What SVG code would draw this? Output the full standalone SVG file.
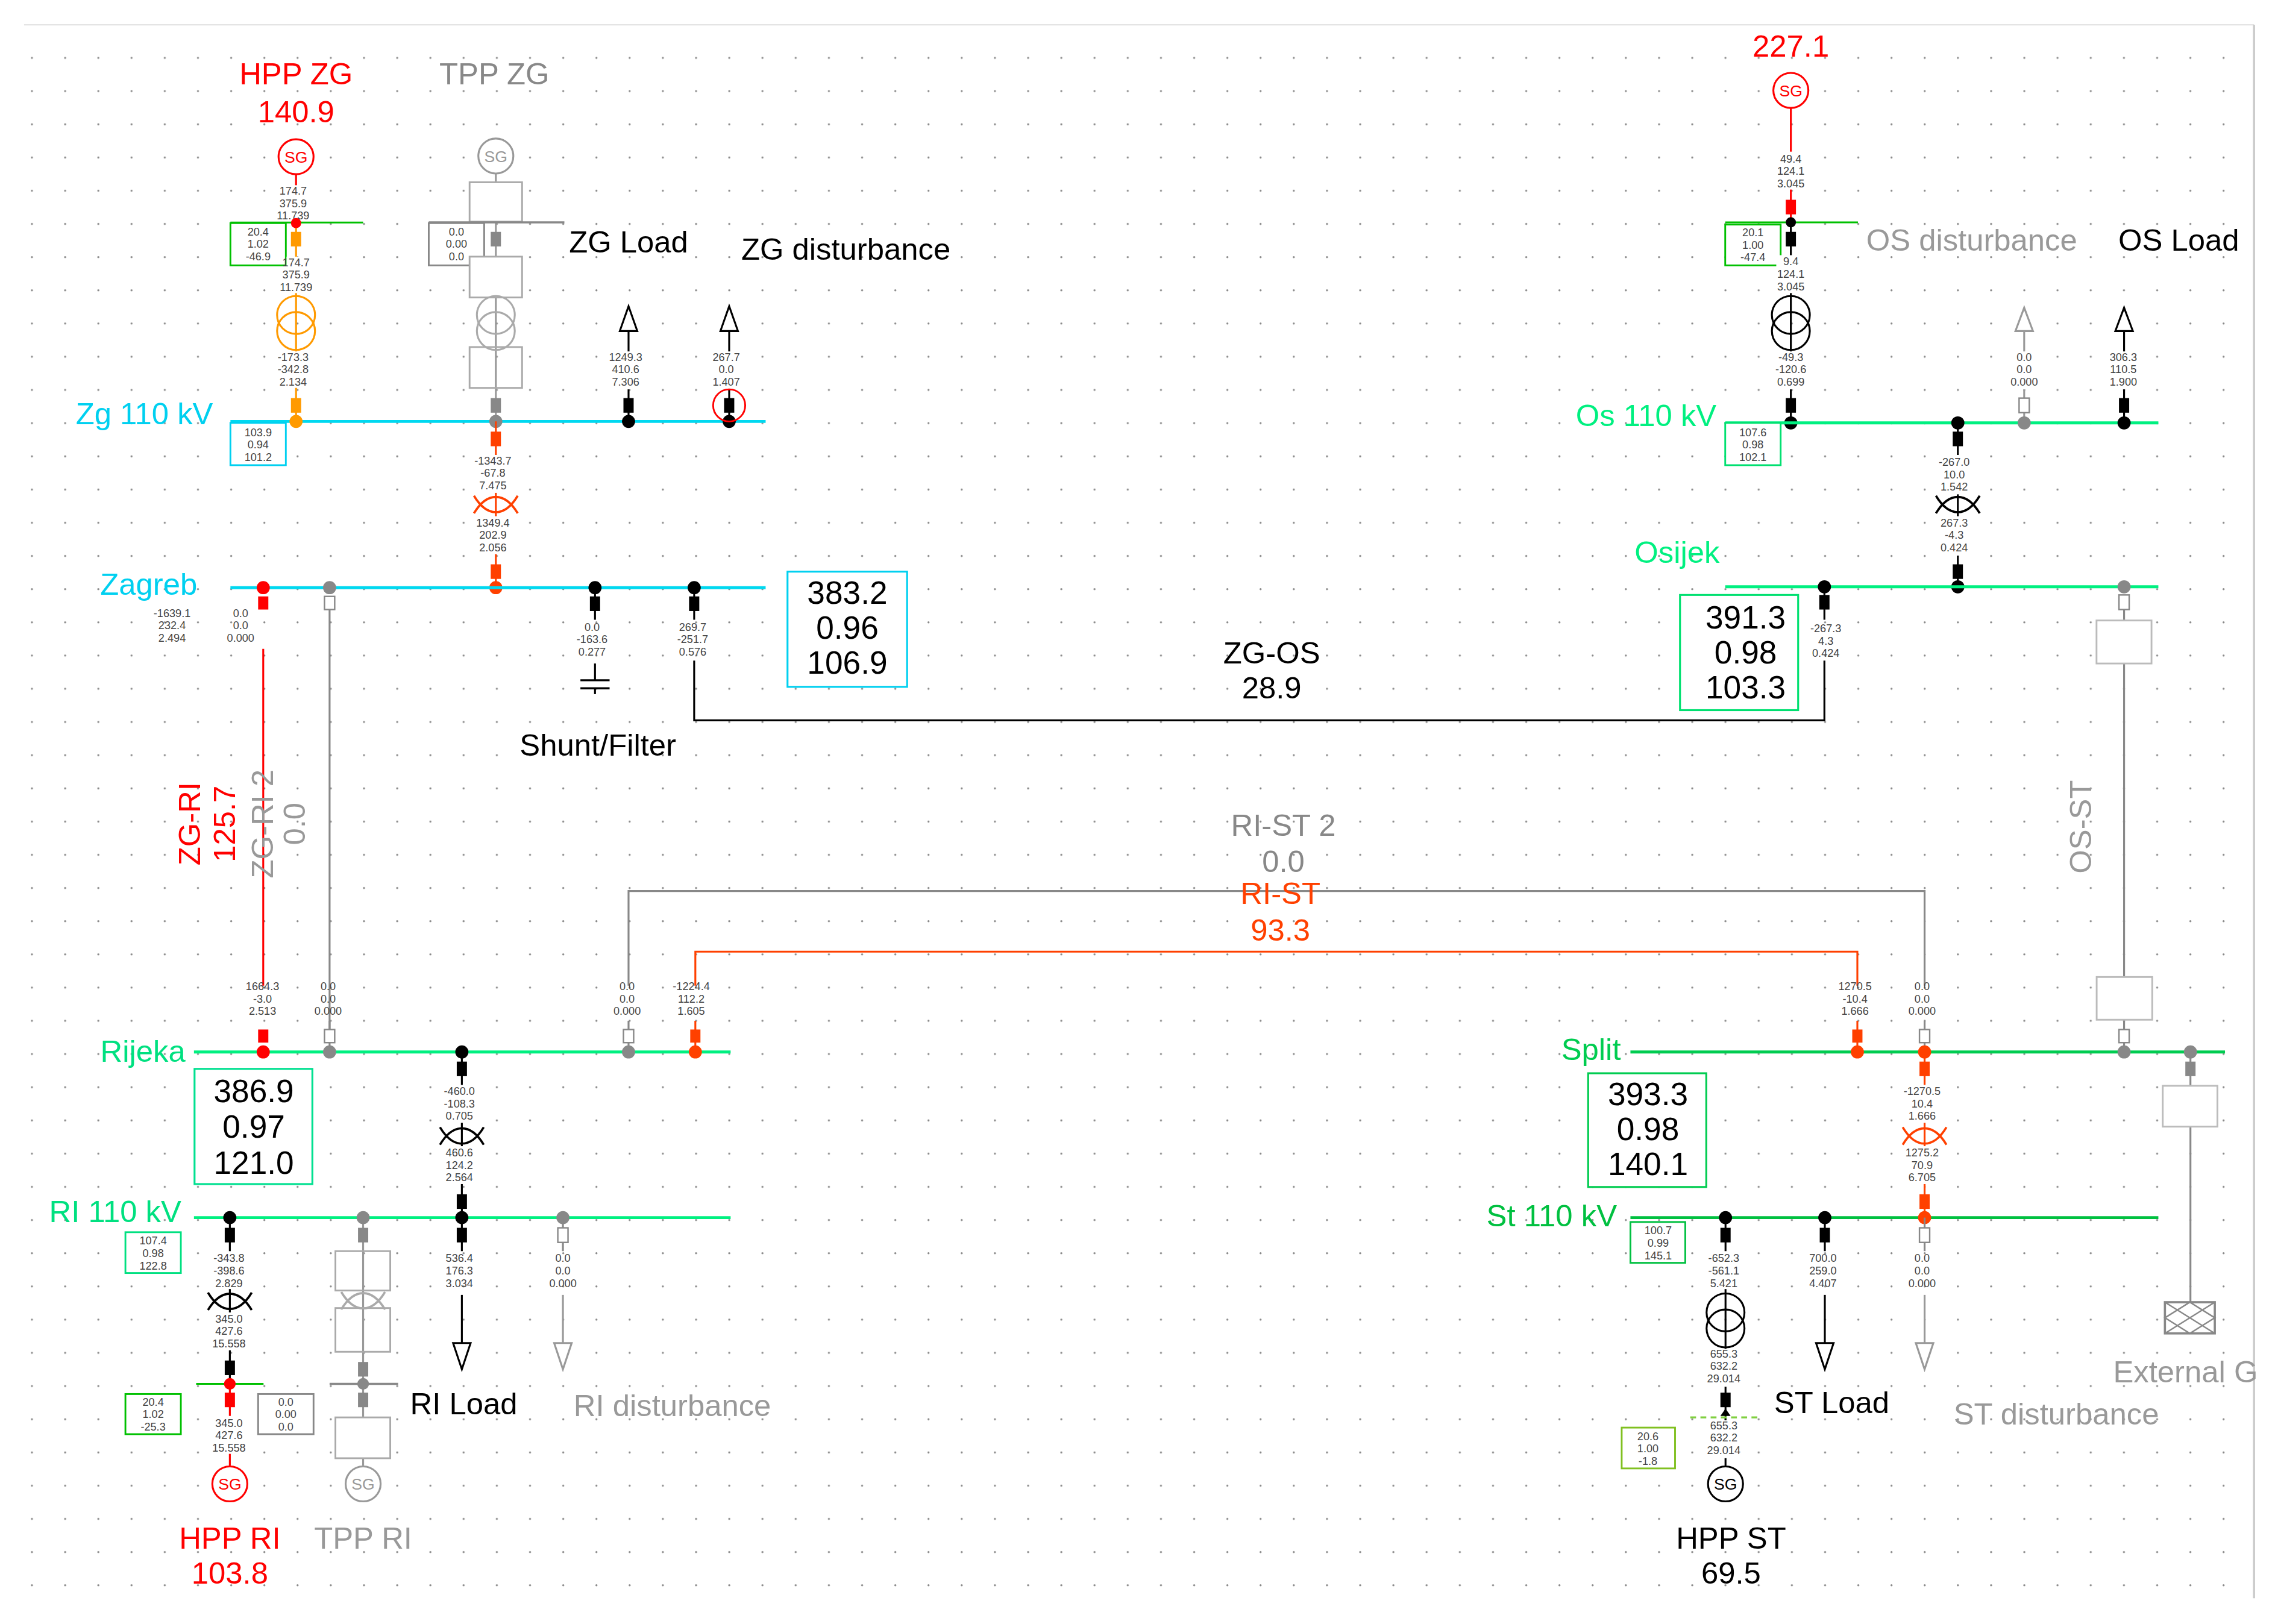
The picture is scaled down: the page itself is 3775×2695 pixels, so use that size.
<svg xmlns="http://www.w3.org/2000/svg" width="3775" height="2695" viewBox="0 0 3775 2695">
<defs>
<style>
text{font-family:"Liberation Sans",Arial,sans-serif}
.s{font-size:7.5px;fill:#444;text-anchor:middle}
.L{font-size:21px;text-anchor:middle}
.B{font-size:22px;text-anchor:middle;fill:#000}
.sg{font-size:11px;text-anchor:middle}
</style>
<pattern id="dots" x="21.2" y="39" width="22.77" height="22.77" patternUnits="userSpaceOnUse"><circle cx="0.7" cy="0.7" r="0.7" fill="#888"/></pattern>
<path id="xs" d="M-15,-6 C-6,9 6,9 15,-6 M-15,6 C-6,-9 6,-9 15,6" fill="none" stroke-width="1.5"/>
</defs>
<rect width="3775" height="2695" fill="#fff"/>
<g transform="scale(2.4199)">
<rect x="16" y="30" width="1524" height="1065" fill="url(#dots)"/>
<g id="border"><line x1="16.5" y1="17" x2="1545.6" y2="17" stroke="#e4e4e4" stroke-width="1"/><line x1="1545.6" y1="17" x2="1545.6" y2="1096" stroke="#ccc" stroke-width="1.5"/></g>

<g id="connectors" fill="none" stroke-width="1.3">
<line x1="180.5" y1="445" x2="180.5" y2="676" stroke="#f00"/>
<line x1="226" y1="418" x2="226" y2="706" stroke="#888"/>
<polyline points="476,453 476,494 1251,494 1251,453" stroke="#000"/>
<polyline points="431,676 431,611 1319.7,611 1319.7,676" stroke="#888"/>
<polyline points="476.8,676 476.8,652.6 1273.6,652.6 1273.6,676" stroke="#ff4000"/>
<line x1="1456.5" y1="455" x2="1456.5" y2="670" stroke="#888"/>
</g>
<g id="line-labels">
<text class="L" x="872" y="455">ZG-OS</text><text class="L" x="872" y="479">28.9</text>
<text class="L" x="880" y="573" fill="#888">RI-ST 2</text><text class="L" x="880" y="598" fill="#888">0.0</text>
<text class="L" x="878" y="620" fill="#ff4000">RI-ST</text><text class="L" x="878" y="645" fill="#ff4000">93.3</text>
<text class="L" transform="translate(137,565) rotate(-90)" fill="#f00">ZG-RI</text>
<text class="L" transform="translate(161,565) rotate(-90)" fill="#f00">125.7</text>
<text class="L" transform="translate(187,565) rotate(-90)" fill="#999">ZG-RI 2</text>
<text class="L" transform="translate(209,565) rotate(-90)" fill="#999">0.0</text>
<text class="L" transform="translate(1434,567) rotate(-90)" fill="#999">OS-ST</text>
</g>

<g id="bus-zg110">
<line x1="158" y1="289" x2="525" y2="289" stroke="#00d8f0" stroke-width="2"/>
<text class="L" x="99" y="291" fill="#00d0f0">Zg 110 kV</text>
<rect x="158" y="290" width="38" height="29" fill="#fff" stroke="#00d0f0" stroke-width="1.2"/>
<text class="s" x="177" y="299">103.9<tspan x="177" dy="8.5">0.94</tspan><tspan x="177" dy="8.5">101.2</tspan></text>
</g>

<g id="hpp-zg">
<text class="L" x="203" y="58" fill="#f00">HPP ZG</text><text class="L" x="203" y="84" fill="#f00">140.9</text>
<circle cx="203" cy="107.5" r="12" fill="#fff" stroke="#f00" stroke-width="1.3"/>
<text class="sg" x="203" y="111.5" fill="#f00">SG</text>
<line x1="203" y1="119.5" x2="203" y2="153" stroke="#f00" stroke-width="1.3"/>
<line x1="203" y1="153" x2="203" y2="285" stroke="#ff9a00" stroke-width="1.3"/>
<line x1="158" y1="152.6" x2="249" y2="152.6" stroke="#00c000" stroke-width="1.3"/>
<rect x="192" y="127" width="20" height="24" fill="#fff"/>
<text class="s" x="201" y="133.5">174.7<tspan x="201" dy="8.5">375.9</tspan><tspan x="201" dy="8.5">11.739</tspan></text>
<circle cx="203" cy="153" r="3.5" fill="#f00"/>
<rect x="199.5" y="159" width="7" height="10" fill="#ff9a00"/>
<rect x="158" y="153" width="38" height="29" fill="#fff" stroke="#00c000" stroke-width="1.2"/>
<text class="s" x="177" y="161.5">20.4<tspan x="177" dy="8.5">1.02</tspan><tspan x="177" dy="8.5">-46.9</tspan></text>
<rect x="196.5" y="176" width="16" height="25" fill="#fff"/>
<text class="s" x="203" y="182.5">174.7<tspan x="203" dy="8.5">375.9</tspan><tspan x="203" dy="8.5">11.739</tspan></text>
<circle cx="203" cy="216" r="13" fill="none" stroke="#ff9a00" stroke-width="1.3"/>
<circle cx="203" cy="227" r="13" fill="none" stroke="#ff9a00" stroke-width="1.3"/>
<rect x="192" y="241" width="20" height="25" fill="#fff"/>
<text class="s" x="201" y="247.5">-173.3<tspan x="201" dy="8.5">-342.8</tspan><tspan x="201" dy="8.5">2.134</tspan></text>
<rect x="199.5" y="273" width="7" height="10" fill="#ff9a00"/>
<circle cx="203" cy="289" r="4.5" fill="#ff9a00"/>
</g>

<g id="tpp-zg" stroke="#aaa">
<text class="L" x="339" y="58" fill="#888" stroke="none">TPP ZG</text>
<line x1="340" y1="119" x2="340" y2="289" stroke="#999" stroke-width="1.3"/>
<circle cx="340" cy="107" r="12" fill="#fff" stroke="#999" stroke-width="1.3"/>
<text class="sg" x="340" y="111" fill="#999" stroke="none">SG</text>
<rect x="322" y="125" width="36" height="27" fill="#fff" stroke-width="1.2"/>
<line x1="294" y1="152.5" x2="387" y2="152.5" stroke="#888" stroke-width="1.5"/>
<rect x="294" y="153" width="38" height="29" fill="#fff" stroke="#888" stroke-width="1.2"/>
<text class="s" x="313" y="161.5" stroke="none">0.0<tspan x="313" dy="8.5">0.00</tspan><tspan x="313" dy="8.5">0.0</tspan></text>
<rect x="336.5" y="159" width="7" height="10" fill="#888" stroke="none"/>
<rect x="322" y="176" width="36" height="28" fill="#fff" stroke-width="1.2"/>
<circle cx="340" cy="216" r="13" fill="none" stroke-width="1.3"/>
<circle cx="340" cy="227" r="13" fill="none" stroke-width="1.3"/>
<rect x="322" y="238" width="36" height="28" fill="none" stroke-width="1.2"/>
<rect x="336.5" y="273" width="7" height="10" fill="#888" stroke="none"/>
<circle cx="340" cy="289" r="4.5" fill="#888" stroke="none"/>
</g>

<g id="zg-load">
<text class="L" x="431" y="173">ZG Load</text>
<line x1="431" y1="227" x2="431" y2="289" stroke="#000" stroke-width="1.3"/>
<polygon points="431,210 425,227 437,227" fill="#fff" stroke="#000" stroke-width="1.3"/>
<rect x="421" y="241" width="20" height="26" fill="#fff"/>
<text class="s" x="429" y="247.5">1249.3<tspan x="429" dy="8.5">410.6</tspan><tspan x="429" dy="8.5">7.306</tspan></text>
<rect x="427.5" y="273" width="7" height="10" fill="#000"/>
<circle cx="431" cy="289" r="4.5" fill="#000"/>
</g>

<g id="zg-disturbance">
<text class="L" x="580" y="178">ZG disturbance</text>
<line x1="500" y1="227" x2="500" y2="289" stroke="#000" stroke-width="1.3"/>
<polygon points="500,210 494,227 506,227" fill="#fff" stroke="#000" stroke-width="1.3"/>
<rect x="490" y="241" width="18" height="26" fill="#fff"/>
<text class="s" x="498" y="247.5">267.7<tspan x="498" dy="8.5">0.0</tspan><tspan x="498" dy="8.5">1.407</tspan></text>
<rect x="496.5" y="273" width="7" height="10" fill="#000"/>
<circle cx="500" cy="289" r="4.5" fill="#000"/>
<circle cx="500" cy="278" r="11" fill="none" stroke="#f00" stroke-width="1.2"/>
</g>

<g id="tr-zg">
<line x1="340" y1="289" x2="340" y2="403" stroke="#ff4000" stroke-width="1.3"/>
<rect x="336.5" y="296" width="7" height="10" fill="#ff4000"/>
<rect x="330" y="312" width="20" height="26" fill="#fff"/>
<text class="s" x="338" y="318.5">-1343.7<tspan x="338" dy="8.5">-67.8</tspan><tspan x="338" dy="8.5">7.475</tspan></text>
<use href="#xs" x="340" y="346" stroke="#ff4000"/>
<rect x="330" y="354" width="20" height="26" fill="#fff"/>
<text class="s" x="338" y="361">1349.4<tspan x="338" dy="8.5">202.9</tspan><tspan x="338" dy="8.5">2.056</tspan></text>
<rect x="336.5" y="387" width="7" height="10" fill="#ff4000"/>
<circle cx="340" cy="403" r="4.5" fill="#ff4000"/>
</g>

<g id="bus-zagreb">
<line x1="158" y1="403" x2="525" y2="403" stroke="#00d8f0" stroke-width="2"/>
<text class="L" x="102" y="408" fill="#00d0f0">Zagreb</text>
<circle cx="180.5" cy="403" r="4.5" fill="#f00"/>
<rect x="177" y="409" width="7" height="9" fill="#f00"/>
<text class="s" x="118" y="423">-1639.1<tspan x="118" dy="8.5">232.4</tspan><tspan x="118" dy="8.5">2.494</tspan></text>
<text class="s" x="165" y="423">0.0<tspan x="165" dy="8.5">0.0</tspan><tspan x="165" dy="8.5">0.000</tspan></text>
<circle cx="226" cy="403" r="4.5" fill="#888"/>
<rect x="222.5" y="409" width="7" height="9" fill="#fff" stroke="#888"/>
<rect x="540" y="392" width="82" height="79" fill="#fff" stroke="#00d0f0" stroke-width="1.3"/>
<text class="B" x="581" y="414">383.2</text><text class="B" x="581" y="438">0.96</text><text class="B" x="581" y="462">106.9</text>
<circle cx="476" cy="403" r="4.5" fill="#000"/>
<rect x="472.5" y="409" width="7" height="10" fill="#000"/>
<line x1="476" y1="403" x2="476" y2="425" stroke="#000" stroke-width="1.3"/>
<text class="s" x="475" y="432.5">269.7<tspan x="475" dy="8.5">-251.7</tspan><tspan x="475" dy="8.5">0.576</tspan></text>
</g>

<g id="shunt-filter">
<circle cx="408" cy="403" r="4.5" fill="#000"/>
<rect x="404.5" y="409" width="7" height="10" fill="#000"/>
<line x1="408" y1="403" x2="408" y2="425" stroke="#000" stroke-width="1.3"/>
<text class="s" x="406" y="432.5">0.0<tspan x="406" dy="8.5">-163.6</tspan><tspan x="406" dy="8.5">0.277</tspan></text>
<line x1="408" y1="455" x2="408" y2="466.5" stroke="#000" stroke-width="1.3"/>
<line x1="398" y1="466.5" x2="418" y2="466.5" stroke="#000" stroke-width="1.4"/>
<line x1="398" y1="472" x2="418" y2="472" stroke="#000" stroke-width="1.4"/>
<line x1="408" y1="472" x2="408" y2="476" stroke="#000" stroke-width="1.3"/>
<text class="L" x="410" y="518">Shunt/Filter</text>
</g>

<g id="hpp-os">
<text class="L" x="1228" y="39" fill="#f00">227.1</text>
<line x1="1228" y1="74" x2="1228" y2="152" stroke="#f00" stroke-width="1.3"/>
<circle cx="1228" cy="62" r="12" fill="#fff" stroke="#f00" stroke-width="1.3"/>
<text class="sg" x="1228" y="66" fill="#f00">SG</text>
<rect x="1218" y="104" width="20" height="26" fill="#fff"/>
<text class="s" x="1228" y="111.5">49.4<tspan x="1228" dy="8.5">124.1</tspan><tspan x="1228" dy="8.5">3.045</tspan></text>
<rect x="1224.5" y="137" width="7" height="10" fill="#f00"/>
<line x1="1183" y1="152.5" x2="1274" y2="152.5" stroke="#00c000" stroke-width="1.3"/>
<line x1="1228" y1="152" x2="1228" y2="290" stroke="#000" stroke-width="1.3"/>
<circle cx="1228" cy="152.5" r="3.5" fill="#000"/>
<rect x="1183" y="154" width="38" height="28" fill="#fff" stroke="#00c000" stroke-width="1.2"/>
<text class="s" x="1202" y="162">20.1<tspan x="1202" dy="8.5">1.00</tspan><tspan x="1202" dy="8.5">-47.4</tspan></text>
<rect x="1224.5" y="159" width="7" height="10" fill="#000"/>
<rect x="1218" y="175" width="20" height="26" fill="#fff"/>
<text class="s" x="1228" y="182">9.4<tspan x="1228" dy="8.5">124.1</tspan><tspan x="1228" dy="8.5">3.045</tspan></text>
<circle cx="1228" cy="216" r="13" fill="none" stroke="#000" stroke-width="1.3"/>
<circle cx="1228" cy="227" r="13" fill="none" stroke="#000" stroke-width="1.3"/>
<rect x="1216" y="241" width="24" height="26" fill="#fff"/>
<text class="s" x="1228" y="247.5">-49.3<tspan x="1228" dy="8.5">-120.6</tspan><tspan x="1228" dy="8.5">0.699</tspan></text>
<rect x="1224.5" y="273" width="7" height="10" fill="#000"/>
<circle cx="1228" cy="290" r="4.5" fill="#000"/>
</g>

<g id="bus-os110">
<line x1="1183" y1="290" x2="1480" y2="290" stroke="#00f080" stroke-width="2"/>
<text class="L" x="1177" y="292" style="text-anchor:end" fill="#00f080">Os 110 kV</text>
<rect x="1183" y="290" width="38" height="29" fill="#fff" stroke="#00e070" stroke-width="1.2"/>
<text class="s" x="1202" y="299">107.6<tspan x="1202" dy="8.5">0.98</tspan><tspan x="1202" dy="8.5">102.1</tspan></text>
</g>

<g id="tr-os">
<line x1="1342.5" y1="290" x2="1342.5" y2="402" stroke="#000" stroke-width="1.3"/>
<circle cx="1342.5" cy="290" r="4.5" fill="#000"/>
<rect x="1339" y="296" width="7" height="10" fill="#000"/>
<rect x="1330" y="312" width="24" height="27" fill="#fff"/>
<text class="s" x="1340" y="319.5">-267.0<tspan x="1340" dy="8.5">10.0</tspan><tspan x="1340" dy="8.5">1.542</tspan></text>
<use href="#xs" x="1342.5" y="346" stroke="#000"/>
<rect x="1330" y="354" width="24" height="27" fill="#fff"/>
<text class="s" x="1340" y="361">267.3<tspan x="1340" dy="8.5">-4.3</tspan><tspan x="1340" dy="8.5">0.424</tspan></text>
<rect x="1339" y="387" width="7" height="10" fill="#000"/>
<circle cx="1342.5" cy="402.4" r="4.5" fill="#000"/>
</g>

<g id="os-disturbance">
<text class="L" x="1352" y="172" fill="#999">OS disturbance</text>
<line x1="1388" y1="227" x2="1388" y2="290" stroke="#999" stroke-width="1.3"/>
<polygon points="1388,211 1382,227 1394,227" fill="#fff" stroke="#999" stroke-width="1.3"/>
<rect x="1380" y="241" width="16" height="26" fill="#fff"/>
<text class="s" x="1388" y="247.5">0.0<tspan x="1388" dy="8.5">0.0</tspan><tspan x="1388" dy="8.5">0.000</tspan></text>
<rect x="1384.5" y="273" width="7" height="10" fill="#fff" stroke="#888"/>
<circle cx="1388" cy="290" r="4.5" fill="#888"/>
</g>
<g id="os-load">
<text class="L" x="1494" y="172">OS Load</text>
<line x1="1456.5" y1="227" x2="1456.5" y2="290" stroke="#000" stroke-width="1.3"/>
<polygon points="1456.5,211 1450.5,227 1462.5,227" fill="#fff" stroke="#000" stroke-width="1.3"/>
<rect x="1447" y="241" width="19" height="26" fill="#fff"/>
<text class="s" x="1456" y="247.5">306.3<tspan x="1456" dy="8.5">110.5</tspan><tspan x="1456" dy="8.5">1.900</tspan></text>
<rect x="1453" y="273" width="7" height="10" fill="#000"/>
<circle cx="1456.5" cy="290" r="4.5" fill="#000"/>
</g>

<g id="bus-osijek">
<line x1="1183" y1="402.4" x2="1480" y2="402.4" stroke="#00f080" stroke-width="2"/>
<text class="L" x="1150" y="386" fill="#00f080">Osijek</text>
<circle cx="1251" cy="402.4" r="4.5" fill="#000"/>
<rect x="1247.5" y="408" width="7" height="10" fill="#000"/>
<line x1="1251" y1="402" x2="1251" y2="425" stroke="#000" stroke-width="1.3"/>
<text class="s" x="1252" y="433.5">-267.3<tspan x="1252" dy="8.5">4.3</tspan><tspan x="1252" dy="8.5">0.424</tspan></text>
<rect x="1152" y="408" width="81" height="79" fill="#fff" stroke="#00e070" stroke-width="1.3"/>
<text class="B" x="1197" y="431">391.3</text><text class="B" x="1197" y="455">0.98</text><text class="B" x="1197" y="479">103.3</text>
<circle cx="1456.5" cy="402.4" r="4.5" fill="#888"/>
<rect x="1453" y="408" width="7" height="10" fill="#fff" stroke="#888"/>
<line x1="1456.5" y1="418" x2="1456.5" y2="425.5" stroke="#888" stroke-width="1.3"/>
<rect x="1437.6" y="425.5" width="37.7" height="29.5" fill="#fff" stroke="#bbb" stroke-width="1.2"/>
</g>

<g id="bus-rijeka">
<line x1="133" y1="721.4" x2="501" y2="721.4" stroke="#00f080" stroke-width="2"/>
<text class="L" x="98" y="728" fill="#00e080">Rijeka</text>
<text class="s" x="180" y="679">1664.3<tspan x="180" dy="8.5">-3.0</tspan><tspan x="180" dy="8.5">2.513</tspan></text>
<rect x="177" y="706" width="7" height="9" fill="#f00"/>
<circle cx="180.5" cy="721.4" r="4.5" fill="#f00"/>
<text class="s" x="225" y="679">0.0<tspan x="225" dy="8.5">0.0</tspan><tspan x="225" dy="8.5">0.000</tspan></text>
<line x1="226" y1="700" x2="226" y2="721" stroke="#888" stroke-width="1.3"/>
<rect x="222.5" y="706" width="7" height="9" fill="#fff" stroke="#888"/>
<circle cx="226" cy="721.4" r="4.5" fill="#888"/>
<text class="s" x="430" y="679">0.0<tspan x="430" dy="8.5">0.0</tspan><tspan x="430" dy="8.5">0.000</tspan></text>
<line x1="431" y1="700" x2="431" y2="721" stroke="#888" stroke-width="1.3"/>
<rect x="427.5" y="706" width="7" height="9" fill="#fff" stroke="#888"/>
<circle cx="431" cy="721.4" r="4.5" fill="#888"/>
<text class="s" x="474" y="679">-1224.4<tspan x="474" dy="8.5">112.2</tspan><tspan x="474" dy="8.5">1.605</tspan></text>
<line x1="476.8" y1="700" x2="476.8" y2="721" stroke="#ff4000" stroke-width="1.3"/>
<rect x="473.3" y="706" width="7" height="9" fill="#ff4000"/>
<circle cx="476.8" cy="721.4" r="4.5" fill="#ff4000"/>
<rect x="133.4" y="733" width="80.8" height="79" fill="#fff" stroke="#00e090" stroke-width="1.3"/>
<text class="B" x="174" y="756">386.9</text><text class="B" x="174" y="780">0.97</text><text class="B" x="174" y="805">121.0</text>
</g>

<g id="tr-ri">
<line x1="316.7" y1="721" x2="316.7" y2="835" stroke="#000" stroke-width="1.3"/>
<circle cx="316.7" cy="721.4" r="4.5" fill="#000"/>
<rect x="313.2" y="728" width="7" height="10" fill="#000"/>
<rect x="305" y="744" width="24" height="26" fill="#fff"/>
<text class="s" x="315" y="751">-460.0<tspan x="315" dy="8.5">-108.3</tspan><tspan x="315" dy="8.5">0.705</tspan></text>
<use href="#xs" x="316.7" y="779" stroke="#000"/>
<rect x="305" y="786" width="24" height="26" fill="#fff"/>
<text class="s" x="315" y="793">460.6<tspan x="315" dy="8.5">124.2</tspan><tspan x="315" dy="8.5">2.564</tspan></text>
<rect x="313.2" y="819" width="7" height="10" fill="#000"/>
</g>

<g id="bus-ri110">
<line x1="133" y1="835" x2="501" y2="835" stroke="#00f080" stroke-width="2"/>
<text class="L" x="79" y="838" fill="#00e080">RI 110 kV</text>
<rect x="86" y="845" width="38" height="28" fill="#fff" stroke="#00e080" stroke-width="1.2"/>
<text class="s" x="105" y="853.5">107.4<tspan x="105" dy="8.5">0.98</tspan><tspan x="105" dy="8.5">122.8</tspan></text>
<circle cx="316.7" cy="835" r="4.5" fill="#000"/>
</g>

<g id="hpp-ri">
<line x1="157.6" y1="835" x2="157.6" y2="949" stroke="#000" stroke-width="1.3"/>
<line x1="157.6" y1="949" x2="157.6" y2="1005" stroke="#f00" stroke-width="1.3"/>
<circle cx="157.6" cy="835" r="4.5" fill="#000"/>
<rect x="154.1" y="842" width="7" height="10" fill="#000"/>
<rect x="146" y="858" width="24" height="26" fill="#fff"/>
<text class="s" x="157" y="865.5">-343.8<tspan x="157" dy="8.5">-398.6</tspan><tspan x="157" dy="8.5">2.829</tspan></text>
<use href="#xs" x="157.6" y="892.4" stroke="#000"/>
<rect x="146" y="900" width="24" height="26" fill="#fff"/>
<text class="s" x="157" y="907">345.0<tspan x="157" dy="8.5">427.6</tspan><tspan x="157" dy="8.5">15.558</tspan></text>
<rect x="154.1" y="933" width="7" height="10" fill="#000"/>
<line x1="134.5" y1="949" x2="180.7" y2="949" stroke="#00c000" stroke-width="1.3"/>
<circle cx="157.6" cy="949" r="4" fill="#f00"/>
<rect x="154.1" y="955" width="7" height="10" fill="#f00"/>
<rect x="146" y="971" width="24" height="26" fill="#fff"/>
<text class="s" x="157" y="978.5">345.0<tspan x="157" dy="8.5">427.6</tspan><tspan x="157" dy="8.5">15.558</tspan></text>
<circle cx="157.6" cy="1017.6" r="12" fill="#fff" stroke="#f00" stroke-width="1.3"/>
<text class="sg" x="157.6" y="1021.6" fill="#f00">SG</text>
<text class="L" x="157.6" y="1062" fill="#f00">HPP RI</text><text class="L" x="157.6" y="1086" fill="#f00">103.8</text>
<rect x="86" y="956" width="38" height="27.5" fill="#fff" stroke="#00c000" stroke-width="1.2"/>
<text class="s" x="105" y="964">20.4<tspan x="105" dy="8.5">1.02</tspan><tspan x="105" dy="8.5">-25.3</tspan></text>
<rect x="177" y="956" width="38" height="27.5" fill="#fff" stroke="#888" stroke-width="1.2"/>
<text class="s" x="196" y="964">0.0<tspan x="196" dy="8.5">0.00</tspan><tspan x="196" dy="8.5">0.0</tspan></text>
</g>

<g id="tpp-ri" stroke="#aaa">
<line x1="249" y1="835" x2="249" y2="1005" stroke="#999" stroke-width="1.3"/>
<circle cx="249" cy="835" r="4.5" fill="#888" stroke="none"/>
<rect x="245.5" y="842" width="7" height="10" fill="#888" stroke="none"/>
<rect x="230" y="858" width="37.6" height="27" fill="none" stroke-width="1.2"/>
<use href="#xs" x="249" y="892" stroke="#aaa"/>
<rect x="230" y="897" width="37.6" height="30" fill="none" stroke-width="1.2"/>
<rect x="245.5" y="934" width="7" height="10" fill="#888" stroke="none"/>
<line x1="226" y1="949" x2="273" y2="949" stroke="#888" stroke-width="1.5"/>
<circle cx="249" cy="949" r="4" fill="#888" stroke="none"/>
<rect x="245.5" y="955" width="7" height="10" fill="#888" stroke="none"/>
<rect x="230" y="972" width="37.6" height="28" fill="#fff" stroke-width="1.2"/>
<circle cx="249" cy="1017.6" r="12" fill="#fff" stroke="#999" stroke-width="1.3"/>
<text class="sg" x="249" y="1021.6" fill="#999" stroke="none">SG</text>
<text class="L" x="249" y="1062" fill="#999" stroke="none">TPP RI</text>
</g>

<g id="ri-load">
<rect x="313.2" y="842" width="7" height="10" fill="#000"/>
<line x1="316.7" y1="835" x2="316.7" y2="858" stroke="#000" stroke-width="1.3"/>
<text class="s" x="315" y="865.5">536.4<tspan x="315" dy="8.5">176.3</tspan><tspan x="315" dy="8.5">3.034</tspan></text>
<line x1="316.7" y1="888" x2="316.7" y2="921" stroke="#000" stroke-width="1.3"/>
<polygon points="310.7,921 322.7,921 316.7,939" fill="#fff" stroke="#000" stroke-width="1.3"/>
<text class="L" x="318" y="970">RI Load</text>
</g>
<g id="ri-disturbance">
<circle cx="386" cy="835" r="4.5" fill="#888"/>
<line x1="386" y1="835" x2="386" y2="858" stroke="#888" stroke-width="1.3"/>
<rect x="382.5" y="842" width="7" height="10" fill="#fff" stroke="#888"/>
<text class="s" x="386" y="865.5">0.0<tspan x="386" dy="8.5">0.0</tspan><tspan x="386" dy="8.5">0.000</tspan></text>
<line x1="386" y1="888" x2="386" y2="921" stroke="#999" stroke-width="1.3"/>
<polygon points="380,921 392,921 386,939" fill="#fff" stroke="#999" stroke-width="1.3"/>
<text class="L" x="461" y="971" fill="#999">RI disturbance</text>
</g>

<g id="bus-split">
<line x1="1118" y1="721.4" x2="1525.7" y2="721.4" stroke="#00cc50" stroke-width="2"/>
<text class="L" x="1091" y="727" fill="#00cc50">Split</text>
<text class="s" x="1272" y="679">1270.5<tspan x="1272" dy="8.5">-10.4</tspan><tspan x="1272" dy="8.5">1.666</tspan></text>
<line x1="1273.6" y1="700" x2="1273.6" y2="721" stroke="#ff4000" stroke-width="1.3"/>
<rect x="1270.1" y="706" width="7" height="9" fill="#ff4000"/>
<circle cx="1273.6" cy="721.4" r="4.5" fill="#ff4000"/>
<text class="s" x="1318" y="679">0.0<tspan x="1318" dy="8.5">0.0</tspan><tspan x="1318" dy="8.5">0.000</tspan></text>
<line x1="1319.7" y1="700" x2="1319.7" y2="721" stroke="#888" stroke-width="1.3"/>
<rect x="1316.2" y="706" width="7" height="9" fill="#fff" stroke="#888"/>
<line x1="1456.5" y1="699" x2="1456.5" y2="721" stroke="#888" stroke-width="1.3"/>
<rect x="1437.7" y="670" width="38.1" height="29.3" fill="#fff" stroke="#bbb" stroke-width="1.2"/>
<rect x="1453" y="706" width="7" height="9" fill="#fff" stroke="#888"/>
<circle cx="1456.5" cy="721.4" r="4.5" fill="#888"/>
<rect x="1089" y="736" width="81" height="78" fill="#fff" stroke="#00cc50" stroke-width="1.3"/>
<text class="B" x="1130" y="758">393.3</text><text class="B" x="1130" y="782">0.98</text><text class="B" x="1130" y="806">140.1</text>
</g>

<g id="tr-st">
<line x1="1319.7" y1="721" x2="1319.7" y2="835" stroke="#ff4000" stroke-width="1.3"/>
<circle cx="1319.7" cy="721.4" r="4.5" fill="#ff4000"/>
<rect x="1316.2" y="728" width="7" height="10" fill="#ff4000"/>
<rect x="1306" y="744" width="26" height="26" fill="#fff"/>
<text class="s" x="1318" y="751">-1270.5<tspan x="1318" dy="8.5">10.4</tspan><tspan x="1318" dy="8.5">1.666</tspan></text>
<use href="#xs" x="1319.7" y="779" stroke="#ff4000"/>
<rect x="1306" y="786" width="26" height="26" fill="#fff"/>
<text class="s" x="1318" y="793">1275.2<tspan x="1318" dy="8.5">70.9</tspan><tspan x="1318" dy="8.5">6.705</tspan></text>
<rect x="1316.2" y="819" width="7" height="10" fill="#ff4000"/>
</g>

<g id="external-grid">
<circle cx="1502" cy="721.4" r="4.5" fill="#888"/>
<line x1="1502" y1="721" x2="1502" y2="893" stroke="#888" stroke-width="1.3"/>
<rect x="1498.5" y="728" width="7" height="10" fill="#888"/>
<rect x="1483" y="744.6" width="37.5" height="28" fill="#fff" stroke="#bbb" stroke-width="1.2"/>
<rect x="1484.5" y="893" width="34.2" height="21.4" fill="#fff" stroke="#888" stroke-width="1.5"/>
<path d="M1484.5,893 L1518.7,914.4 M1484.5,914.4 L1518.7,893 M1484.5,903.7 L1501.6,893 L1518.7,903.7 L1501.6,914.4 Z" fill="none" stroke="#888" stroke-width="1"/>
<text class="L" x="1449" y="948" style="text-anchor:start" fill="#999">External G</text>
</g>

<g id="bus-st110">
<line x1="1118" y1="835" x2="1480" y2="835" stroke="#00c040" stroke-width="2"/>
<text class="L" x="1064" y="841" fill="#00c040">St 110 kV</text>
<rect x="1118" y="838" width="37.6" height="28" fill="#fff" stroke="#00c040" stroke-width="1.2"/>
<text class="s" x="1137" y="846.5">100.7<tspan x="1137" dy="8.5">0.99</tspan><tspan x="1137" dy="8.5">145.1</tspan></text>
<circle cx="1319.7" cy="835" r="4.5" fill="#ff4000"/>
</g>

<g id="hpp-st">
<line x1="1183.2" y1="835" x2="1183.2" y2="1005" stroke="#000" stroke-width="1.3"/>
<circle cx="1183.2" cy="835" r="4.5" fill="#000"/>
<rect x="1179.7" y="842" width="7" height="10" fill="#000"/>
<rect x="1171" y="858" width="24" height="26" fill="#fff"/>
<text class="s" x="1182" y="865.5">-652.3<tspan x="1182" dy="8.5">-561.1</tspan><tspan x="1182" dy="8.5">5.421</tspan></text>
<circle cx="1183.2" cy="900" r="13" fill="none" stroke="#000" stroke-width="1.3"/>
<circle cx="1183.2" cy="911" r="13" fill="none" stroke="#000" stroke-width="1.3"/>
<rect x="1171" y="925" width="24" height="26" fill="#fff"/>
<text class="s" x="1182" y="931">655.3<tspan x="1182" dy="8.5">632.2</tspan><tspan x="1182" dy="8.5">29.014</tspan></text>
<rect x="1179.7" y="955" width="7" height="10" fill="#000"/>
<line x1="1159" y1="972" x2="1206" y2="972" stroke="#80d040" stroke-width="1.3" stroke-dasharray="4 3"/>
<path d="M1179.7,971 L1183.2,966 L1186.7,971 Z" fill="#000"/>
<rect x="1171" y="974" width="24" height="26" fill="#fff"/>
<text class="s" x="1182" y="980">655.3<tspan x="1182" dy="8.5">632.2</tspan><tspan x="1182" dy="8.5">29.014</tspan></text>
<circle cx="1183.2" cy="1017.6" r="12" fill="#fff" stroke="#000" stroke-width="1.3"/>
<text class="sg" x="1183.2" y="1021.6" fill="#000">SG</text>
<text class="L" x="1187" y="1062">HPP ST</text><text class="L" x="1187" y="1086">69.5</text>
<rect x="1112" y="979" width="36.6" height="28" fill="#fff" stroke="#80c020" stroke-width="1.2"/>
<text class="s" x="1130" y="987.5">20.6<tspan x="1130" dy="8.5">1.00</tspan><tspan x="1130" dy="8.5">-1.8</tspan></text>
</g>

<g id="st-load">
<circle cx="1251.3" cy="835" r="4.5" fill="#000"/>
<line x1="1251.3" y1="835" x2="1251.3" y2="858" stroke="#000" stroke-width="1.3"/>
<rect x="1247.8" y="842" width="7" height="10" fill="#000"/>
<text class="s" x="1250" y="865.5">700.0<tspan x="1250" dy="8.5">259.0</tspan><tspan x="1250" dy="8.5">4.407</tspan></text>
<line x1="1251.3" y1="888" x2="1251.3" y2="921" stroke="#000" stroke-width="1.3"/>
<polygon points="1245.3,921 1257.3,921 1251.3,939" fill="#fff" stroke="#000" stroke-width="1.3"/>
<text class="L" x="1256" y="969">ST Load</text>
</g>
<g id="st-disturbance">
<line x1="1319.7" y1="835" x2="1319.7" y2="858" stroke="#888" stroke-width="1.3"/>
<rect x="1316.2" y="842" width="7" height="10" fill="#fff" stroke="#888"/>
<text class="s" x="1318" y="865.5">0.0<tspan x="1318" dy="8.5">0.0</tspan><tspan x="1318" dy="8.5">0.000</tspan></text>
<line x1="1319.7" y1="888" x2="1319.7" y2="921" stroke="#999" stroke-width="1.3"/>
<polygon points="1313.7,921 1325.7,921 1319.7,939" fill="#fff" stroke="#999" stroke-width="1.3"/>
<text class="L" x="1410" y="977" fill="#999">ST disturbance</text>
</g>
</g>
</svg>
